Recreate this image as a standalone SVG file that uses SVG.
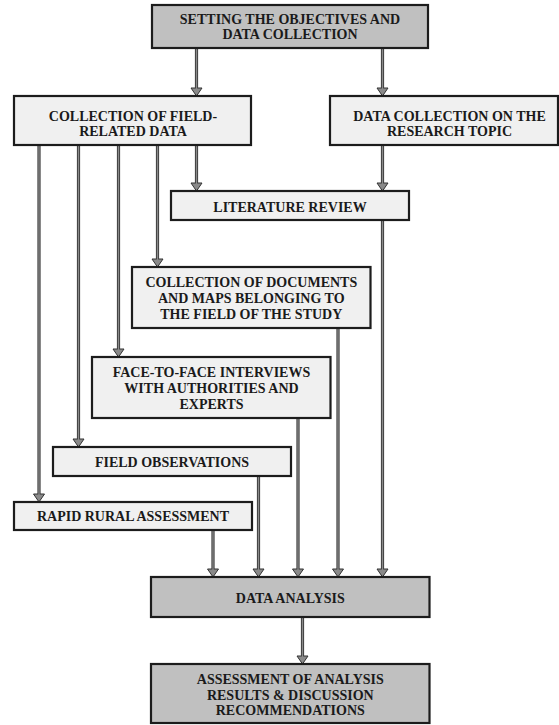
<svg xmlns="http://www.w3.org/2000/svg" width="559" height="725" viewBox="0 0 559 725">
<style>
.box{stroke:#1c1c1c;stroke-width:2.2}
.light{fill:#f0f0f0}
.dark{fill:#c0c0c0}
.t{font-family:"Liberation Serif","Times New Roman",serif;font-weight:bold;font-size:14px;fill:#1a1a1a;text-anchor:middle}
.co{fill:none;stroke:#3a3a3a;stroke-width:3.2}
.ci{fill:none;stroke:#8a8a8a;stroke-width:1.3}
</style>
<defs>
<marker id="ah" markerUnits="userSpaceOnUse" viewBox="-1 -7 11 14" refX="0" refY="0" markerWidth="11" markerHeight="14" orient="auto">
<polygon points="0,-5.5 8,0 0,5.5" fill="#8a8a8a" stroke="#333" stroke-width="1"/>
</marker>
</defs>
<rect width="559" height="725" fill="#ffffff"/>
<g id="connectors">
<g class="co" marker-end="url(#ah)">
<path d="M196.5,49 V88"/>
<path d="M382.5,49 V88"/>
<path d="M196.5,145 V183"/>
<path d="M382.5,145 V183"/>
<path d="M157.5,145 V259"/>
<path d="M118.5,145 V349"/>
<path d="M78.5,145 V439"/>
<path d="M39,145 V494"/>
<path d="M382.5,220 V569"/>
<path d="M338,328 V569"/>
<path d="M298,418 V569"/>
<path d="M258.5,476 V569"/>
<path d="M213,530 V569"/>
<path d="M302.5,617 V656"/>
</g>
<g class="ci">
<path d="M196.5,49 V89"/>
<path d="M382.5,49 V89"/>
<path d="M196.5,145 V184"/>
<path d="M382.5,145 V184"/>
<path d="M157.5,145 V260"/>
<path d="M118.5,145 V350"/>
<path d="M78.5,145 V440"/>
<path d="M39,145 V495"/>
<path d="M382.5,220 V570"/>
<path d="M338,328 V570"/>
<path d="M298,418 V570"/>
<path d="M258.5,476 V570"/>
<path d="M213,530 V570"/>
<path d="M302.5,617 V657"/>
</g>
</g>
<g id="n-objectives">
<rect class="box dark" x="152" y="5" width="276" height="43"/>
<text class="t" x="290" y="24">SETTING THE OBJECTIVES AND</text>
<text class="t" x="290" y="39">DATA COLLECTION</text>
</g>
<g id="n-field-data">
<rect class="box light" x="14" y="96" width="237" height="49"/>
<text class="t" x="133" y="120.5">COLLECTION OF FIELD-</text>
<text class="t" x="133" y="135.5">RELATED DATA</text>
</g>
<g id="n-research-topic">
<rect class="box light" x="330" y="96" width="228" height="49"/>
<text class="t" x="449.5" y="120.5">DATA COLLECTION ON THE</text>
<text class="t" x="449.5" y="135.5">RESEARCH TOPIC</text>
</g>
<g id="n-literature">
<rect class="box light" x="171" y="191" width="238" height="29"/>
<text class="t" x="290" y="211.5">LITERATURE REVIEW</text>
</g>
<g id="n-documents">
<rect class="box light" x="132" y="267" width="238.5" height="61"/>
<text class="t" x="251.3" y="287">COLLECTION OF DOCUMENTS</text>
<text class="t" x="251.3" y="303">AND MAPS BELONGING TO</text>
<text class="t" x="251.3" y="318.5">THE FIELD OF THE STUDY</text>
</g>
<g id="n-interviews">
<rect class="box light" x="92" y="357" width="238.5" height="61"/>
<text class="t" x="211.5" y="377">FACE-TO-FACE INTERVIEWS</text>
<text class="t" x="211.5" y="393">WITH AUTHORITIES AND</text>
<text class="t" x="211.5" y="408.5">EXPERTS</text>
</g>
<g id="n-observations">
<rect class="box light" x="53" y="447" width="238" height="29"/>
<text class="t" x="172" y="466.5">FIELD OBSERVATIONS</text>
</g>
<g id="n-rra">
<rect class="box light" x="14" y="502" width="238" height="28"/>
<text class="t" x="133" y="520.8">RAPID RURAL ASSESSMENT</text>
</g>
<g id="n-analysis">
<rect class="box dark" x="151" y="577" width="278.5" height="40"/>
<text class="t" x="290.3" y="603">DATA ANALYSIS</text>
</g>
<g id="n-assessment">
<rect class="box dark" x="151" y="664" width="278.5" height="59"/>
<text class="t" x="290.3" y="683.7">ASSESSMENT OF ANALYSIS</text>
<text class="t" x="290.3" y="699.7">RESULTS &amp; DISCUSSION</text>
<text class="t" x="290.3" y="715.3">RECOMMENDATIONS</text>
</g>
</svg>
